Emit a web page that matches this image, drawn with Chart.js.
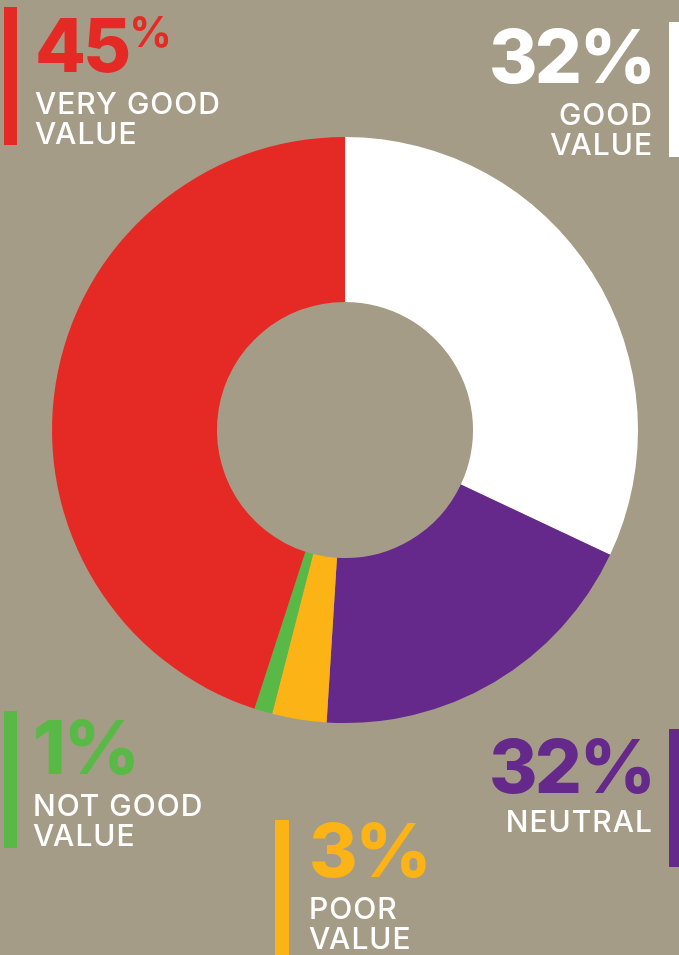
<!DOCTYPE html>
<html lang="en">
<head>
    <meta charset="UTF-8">
    <title>Value rating</title>
    <script src="https://cdn.jsdelivr.net/npm/chart.js"></script>
    <style>
        html, body { margin: 0; padding: 0; background: #a59c87; }
        #wrap { position: relative; width: 679px; height: 955px; }
    </style>
</head>
<body>
    <div id="wrap">
        <canvas id="grafico" width="679" height="955"></canvas>
    </div>

    <script>
        // slices go clockwise from 12 o'clock
        const categorias = ['GOOD VALUE', 'NEUTRAL', 'POOR VALUE', 'NOT GOOD VALUE', 'VERY GOOD VALUE'];
        const valores = [32, 19, 3, 1, 45];            // slice sizes as drawn
        const etiquetas = ['32%', '32%', '3%', '1%', '45%']; // percentages as printed
        const colores = ['#ffffff', '#65298b', '#fbb315', '#58b947', '#e52a25'];

        // where each caption sits: x, baseline of number, align, bar box
        const rotulos = [
            { x: 652, y: 83, align: 'right', lines: ['GOOD', 'VALUE'], bar: [669, 22, 12, 135] },
            { x: 652, y: 793, align: 'right', lines: ['NEUTRAL'], bar: [669, 729, 12, 138] },
            { x: 309, y: 877, align: 'left', lines: ['POOR', 'VALUE'], bar: [275, 820, 14, 140] },
            { x: 33, y: 774, align: 'left', lines: ['NOT GOOD', 'VALUE'], bar: [4, 711, 13, 137] },
            { x: 35, y: 72, align: 'left', lines: ['VERY GOOD', 'VALUE'], bar: [4, 7, 13, 138], smallPct: true }
        ];

        const numFont = '800 74px Inter';

        const rotulosPlugin = {
            id: 'rotulos',
            afterDraw(chart) {
                const ctx = chart.ctx;
                ctx.save();
                rotulos.forEach((r, i) => {
                    const color = colores[i];
                    ctx.fillStyle = color;
                    ctx.fillRect(r.bar[0], r.bar[1], r.bar[2], r.bar[3]);

                    ctx.textBaseline = 'alphabetic';
                    ctx.textAlign = 'left';
                    ctx.letterSpacing = '-3px';
                    const txt = etiquetas[i];
                    const num = txt.replace('%', '');
                    ctx.font = numFont;
                    let wNum = ctx.measureText(num).width;
                    let pctFont = r.smallPct ? '700 42px Inter' : numFont;
                    ctx.font = pctFont;
                    let wPct = ctx.measureText('%').width;
                    let x0 = r.align === 'right' ? r.x - wNum - wPct : r.x;
                    ctx.font = numFont;
                    ctx.fillText(num, x0, r.y);
                    ctx.font = pctFont;
                    ctx.fillText('%', x0 + wNum + 1, r.smallPct ? r.y - 25 : r.y);

                    ctx.fillStyle = '#ffffff';
                    ctx.font = '500 30px Inter';
                    ctx.letterSpacing = '1px';
                    ctx.textAlign = r.align;
                    r.lines.forEach((l, k) => {
                        const y = r.lines.length === 1 ? r.y + 39 : r.y + 42 + k * 30;
                        // letterSpacing adds a trailing gap, compensate on right-aligned text
                        ctx.fillText(l, r.align === 'right' ? r.x + 1 : r.x, y);
                    });
                });
                ctx.restore();
            }
        };

        const ctx = document.getElementById('grafico').getContext('2d');
        const grafico = new Chart(ctx, {
            type: 'doughnut',
            data: {
                labels: categorias,
                datasets: [{
                    data: valores,
                    backgroundColor: colores,
                    borderWidth: 0
                }]
            },
            options: {
                responsive: false,
                animation: false,
                cutout: '43.7%',
                layout: { padding: { left: 52, right: 41, top: 137, bottom: 232 } },
                plugins: {
                    legend: { display: false },
                    tooltip: { enabled: false }
                }
            },
            plugins: [rotulosPlugin]
        });
    </script>
</body>
</html>
